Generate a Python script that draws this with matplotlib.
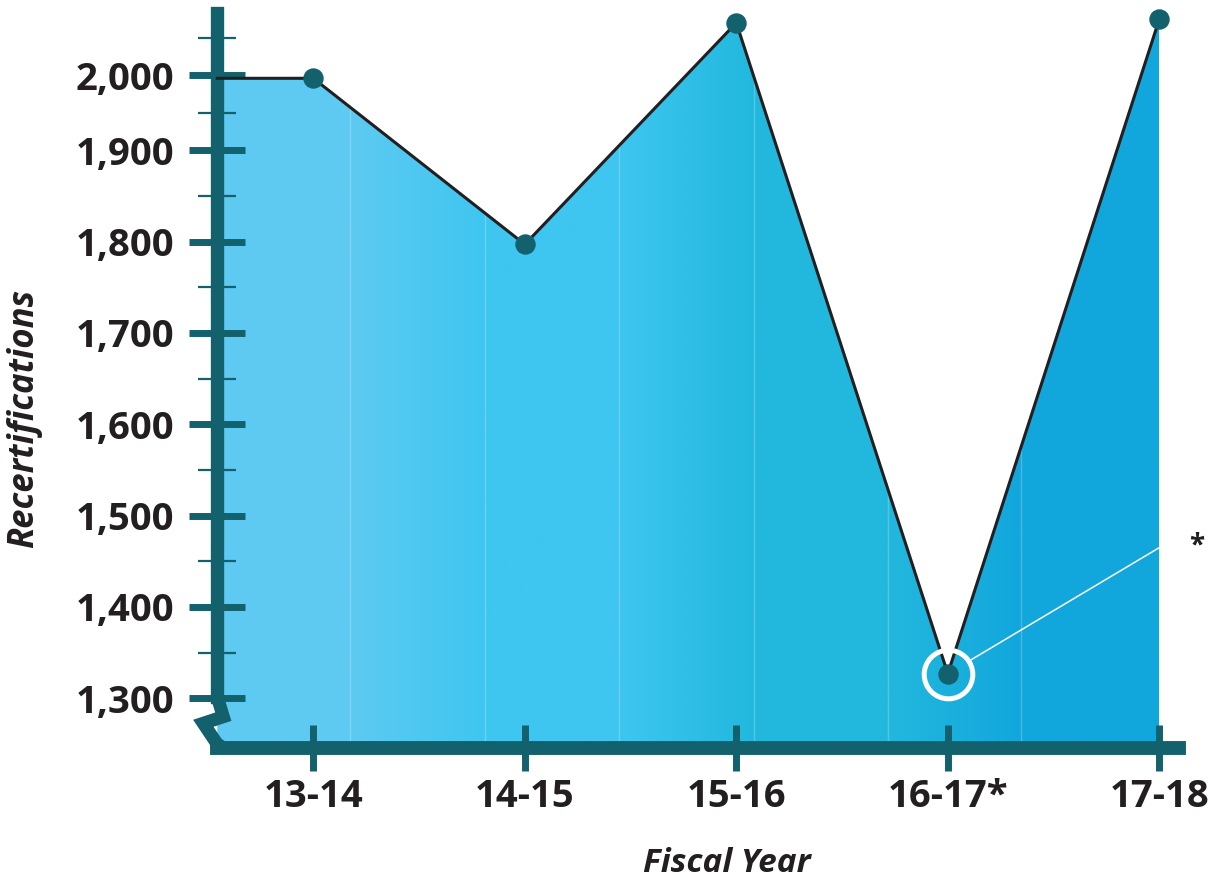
import numpy as np
import matplotlib
matplotlib.use('Agg')
import matplotlib.pyplot as plt
from matplotlib.transforms import blended_transform_factory
from matplotlib.patches import Polygon
from matplotlib.colors import to_rgb

# ---------------- data ----------------
years = ['13-14', '14-15', '15-16', '16-17*', '17-18']
recerts = [1996, 1797, 2070, 1327, 2075]
highlight_index = 3
y_major = [1300, 1400, 1500, 1600, 1700, 1800, 1900, 2000]
y_minor = [1350, 1450, 1550, 1650, 1750, 1850, 1950, 2050]
y_labels = ['1,300', '1,400', '1,500', '1,600', '1,700', '1,800', '1,900', '2,000']

# ---------------- style ----------------
TEAL = '#12616d'
INK = '#231f20'
grad_pos = [-0.431, 0.173, 0.811, 1.444, 2.082, 2.719, 3.347, 3.99]
grad_col = ['#5ecaf2', '#5ecaf2', '#3ec6f0', '#3ec6f0',
            '#22b8de', '#22b8de', '#12a7dc', '#12a7dc']

plt.rcParams['font.family'] = ['Open Sans', 'DejaVu Sans']
plt.rcParams['font.weight'] = 'bold'

# upper part of the axis is drawn compressed in the original design
BREAK, K = 1900.0, 0.8212


def fwd(v):
    v = np.asarray(v, float)
    return np.where(v <= BREAK, v, BREAK + (v - BREAK) * K)


def inv(u):
    u = np.asarray(u, float)
    return np.where(u <= BREAK, u, BREAK + (u - BREAK) / K)


W, H = 1212, 883
fig = plt.figure(figsize=(W / 100, H / 100), dpi=100)
L, R, T, B = 217.3, 1179.0, 6.0, 748.0
ax = fig.add_axes([L / W, (H - B) / H, (R - L) / W, (B - T) / H])
ax.set_yscale('function', functions=(fwd, inv))
XLIM = (-0.4539, 4.093)
YLIM = (1245.6, 2092.4)
ax.set_xlim(*XLIM)
ax.set_ylim(*YLIM)

n = len(years)
x0 = XLIM[0]
xs = [x0] + list(range(n))
ys = [recerts[0]] + list(recerts)
ybot = YLIM[0]

verts = [(x0, ybot)] + list(zip(xs, ys)) + [(n - 1, ybot)]
poly = Polygon(verts, closed=True, facecolor='none', edgecolor='none',
               transform=ax.transData)
ax.add_patch(poly)

# gradient fill
gx = np.linspace(x0, n - 1, 800)
rgb = np.array([to_rgb(c) for c in grad_col])
img = np.stack([np.interp(gx, grad_pos, rgb[:, k]) for k in range(3)], axis=-1)[None, :, :]
tr = blended_transform_factory(ax.transData, ax.transAxes)
im = ax.imshow(img, extent=[x0, n - 1, 0, 1], transform=tr, aspect='auto',
               interpolation='bilinear', zorder=1)
im.set_clip_path(poly)

# faint band seams
for p in grad_pos[1:-1]:
    ln = ax.axvline(p, color='white', alpha=0.22, lw=1.0, zorder=1.5)
    ln.set_clip_path(poly)

ax.set_xlim(*XLIM)
ax.set_ylim(*YLIM)

# line and markers
ax.plot(xs, ys, color=INK, lw=2.2, zorder=3, solid_joinstyle='miter', clip_on=False)
ax.plot(range(n), recerts, 'o', ms=13.7, color=TEAL, zorder=4, clip_on=False)

# highlight ring + callout
ax.plot(highlight_index, recerts[highlight_index], 'o', ms=35, mfc='none',
        mec='white', mew=3.6, zorder=4)
ax.annotate('', xy=(n - 1, 1465), xytext=(highlight_index, recerts[highlight_index]),
            arrowprops=dict(arrowstyle='-', color='white', lw=1.1,
                            shrinkA=19.5, shrinkB=0), zorder=3.5)
ax.annotate('*', xy=(n - 1, 1465), xytext=(27, 1), textcoords='offset points',
            ha='center', va='center', fontsize=20, color=INK, fontweight='bold')

# spines
for s in ['top', 'right']:
    ax.spines[s].set_visible(False)
ax.spines['left'].set_color(TEAL)
ax.spines['left'].set_linewidth(9.6)
ax.spines['left'].set_bounds(1301, 2083.6)
ax.spines['bottom'].set_color(TEAL)
ax.spines['bottom'].set_linewidth(10)

# axis break zigzag (axes coordinates)
zx = [0.0, 0.00624, -0.01456, -0.0006, 0.006]
zy = [0.0687, 0.0422, 0.0333, 0.0063, 0.0]
ax.plot(zx, zy, transform=ax.transAxes, color=TEAL, lw=9.4, clip_on=False,
        solid_joinstyle='miter', solid_capstyle='butt', zorder=2.6)

ax.set_axisbelow(False)

# ticks
ax.set_yticks(y_major)
ax.set_yticklabels(y_labels)
ax.set_yticks(y_minor, minor=True)
ax.yaxis.set_minor_formatter(matplotlib.ticker.NullFormatter())
ax.tick_params(axis='y', which='major', direction='inout', length=40, width=5,
               color=TEAL, pad=11, labelsize=27.5, labelcolor=INK)
ax.tick_params(axis='y', which='minor', direction='inout', length=27, width=1.6,
               color=TEAL)
ax.set_xticks(range(n))
ax.set_xticklabels(years)
ax.tick_params(axis='x', which='minor', bottom=False)
ax.tick_params(axis='x', which='major', direction='inout', length=33, width=5,
               color=TEAL, pad=5, labelsize=27.5, labelcolor=INK)
for lbl in ax.get_xticklabels() + ax.get_yticklabels():
    lbl.set_fontweight('bold')

ax.set_xlabel('Fiscal Year', fontsize=24, fontstyle='italic', fontweight='bold', color=INK)
ax.xaxis.set_label_coords(0.530, -0.134)
ax.set_ylabel('Recertifications', fontsize=25, fontstyle='italic', fontweight='bold', color=INK)
ax.yaxis.set_label_coords(-0.1823, 0.4447)

fig.savefig('out.png', dpi=100)
